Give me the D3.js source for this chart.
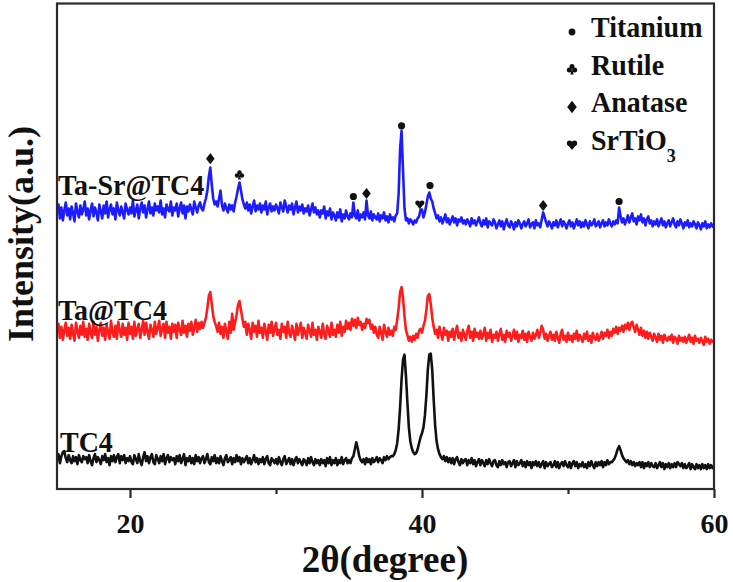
<!DOCTYPE html>
<html><head><meta charset="utf-8">
<script src="https://cdn.jsdelivr.net/npm/d3@7"></script>
<style>
html,body{margin:0;padding:0;background:#fff;}
svg{display:block;}
text{font-family:'Liberation Serif','Times New Roman',serif;font-weight:bold;fill:#111;}
</style>
</head><body>
<svg id="chart" width="733" height="582"></svg>
<script>
// 2θ sampling of the diffractograms
const thetaStart = 15, thetaStep = 0.1;

const seriesNames = ["TC4", "Ta@TC4", "Ta-Sr@TC4"];
const seriesColors = ["#111111", "#ff1c1c", "#1c1cff"];
const seriesOffsets = [0, 120, 240];

// intensities (a.u.), one value per 0.1° from 15° to 60°
const tc4 = [
28,33,24,31,35,36,29,25,32,27, 24,31,26,30,23,32,27,25,31,28, 30,24,32,26,22,29,33,25,30,27,
23,31,27,33,25,29,22,31,26,32, 25,30,33,24,31,27,32,24,29,26, 31,25,23,32,28,24,33,26,22,30,
35,26,31,24,30,33,25,23,32,28, 24,31,26,33,23,29,32,25,30,27, 29,23,31,26,32,24,28,33,22,29,
26,31,24,29,23,32,26,30,24,29, 31,24,28,33,25,23,30,26,32,24, 29,24,31,26,22,29,32,25,27,30,
23,29,25,32,26,30,23,29,25,28, 31,24,29,23,27,32,25,29,23,28, 25,30,23,28,31,24,22,29,27,24,
28,23,30,25,22,28,31,23,26,29, 23,28,22,27,30,24,28,25,22,28, 26,22,29,24,30,25,22,28,24,27,
22,28,24,27,21,29,24,30,22,27, 24,29,22,27,24,30,23,27,29,24, 27,24,29,31,38,45,39,31,27,25,
28,23,29,25,28,23,29,25,27,30, 25,29,27,24,30,27,31,28,30,31, 31,33,37,44,58,80,108,128,133,112,
85,60,46,39,35,33,34,38,44,50, 54,60,72,92,118,133,134,118,88,62, 46,38,33,30,28,31,26,30,25,29,
24,29,23,28,30,25,22,28,24,27, 28,22,27,24,29,23,27,21,25,28, 22,27,24,21,27,23,28,24,21,26,
27,22,20,26,22,27,23,25,20,25, 26,21,24,27,20,26,22,24,27,21, 25,20,26,22,25,19,25,22,26,21,
25,20,23,26,19,25,21,23,25,20, 22,26,20,25,19,23,25,21,26,22, 20,25,19,24,26,21,25,19,23,21,
25,20,23,19,25,21,26,22,19,25, 21,25,22,26,20,25,22,27,23,25, 25,27,29,33,38,41,37,32,29,27,
25,27,23,26,22,25,21,24,22,25, 20,25,19,24,21,25,20,24,21,20, 24,19,22,25,20,24,18,23,20,24,
19,23,20,24,20,25,23,21,24,19, 23,19,21,24,18,23,20,18,23,19, 22,18,23,19,22,18,23,19,22,19,
21];

const taTc4 = [
36,44,30,41,28,38,45,32,40,29, 43,34,27,45,37,30,42,33,46,31, 39,28,44,35,30,46,33,41,27,38,
45,32,40,28,43,36,29,47,35,31, 42,29,46,37,31,44,33,40,28,45, 34,41,29,46,32,39,44,30,38,47,
33,45,36,29,43,38,31,46,34,40, 47,32,39,44,30,46,35,41,29,44, 36,43,30,45,38,33,47,35,42,31,
44,37,46,33,40,48,36,45,39,46, 40,45,50,60,72,76,64,52,46,42, 36,45,34,41,30,44,37,29,46,35,
54,38,46,53,63,67,58,49,41,46, 33,44,38,29,45,36,42,31,47,35, 40,30,44,37,28,43,35,46,32,39,
45,33,38,29,44,36,41,30,46,35, 31,42,36,28,44,33,39,45,30,40, 35,29,43,37,31,45,33,38,28,41,
36,30,44,34,29,42,37,31,45,33, 38,31,43,35,46,32,41,36,47,39, 45,38,49,42,48,40,50,43,46,38,
44,40,49,45,48,39,43,35,41,33, 30,41,35,28,43,36,31,40,33,37, 32,41,38,48,60,76,81,70,52,38,
33,27,31,26,32,28,34,30,37,39, 35,42,47,58,72,74,64,50,41,34, 38,30,41,34,28,40,33,37,27,36,
31,39,28,36,42,30,35,27,38,33, 28,37,42,30,36,27,39,31,35,29, 37,29,34,40,27,35,30,38,26,33,
30,36,27,34,39,28,33,26,37,31, 35,27,32,38,29,36,26,33,30,37, 28,34,26,36,31,27,35,29,33,38,
30,35,42,38,29,34,27,32,36,28, 33,27,36,30,25,34,38,28,32,26, 35,28,32,26,34,29,37,27,33,30,
26,34,29,36,27,32,25,35,30,28, 34,27,31,36,29,35,32,38,30,36, 32,39,35,41,34,40,37,42,36,43,
39,45,38,44,46,41,36,43,38,33, 40,32,37,30,36,29,35,31,27,34, 30,26,34,28,32,25,33,29,27,31,
28,33,25,31,29,24,32,27,30,26, 31,25,29,33,26,30,24,32,27,29, 25,30,27,23,31,26,29,24,28,26,
26];

const taSrTc4 = [
36,44,30,41,28,38,46,33,40,29, 42,35,27,45,37,31,43,34,39,47, 33,40,29,38,45,32,41,36,28,44,
37,30,43,35,47,31,39,44,34,40, 29,46,38,33,42,36,30,45,39,34, 41,35,48,32,38,44,30,40,46,36,
43,31,39,47,35,41,33,45,38,42, 36,48,34,40,31,44,39,37,47,33, 41,38,45,32,40,46,35,43,30,42,
37,44,39,34,47,41,36,43,46,40, 38,45,50,58,72,81,64,50,44,47, 42,50,58,43,38,45,40,36,44,39,
43,37,46,52,60,66,58,49,44,40, 46,38,44,35,42,48,37,43,39,45, 36,43,39,47,34,41,45,37,42,38,
44,40,35,46,41,37,48,42,36,43, 39,45,34,41,47,36,42,38,44,35, 40,37,43,33,39,45,36,41,34,38,
31,38,35,42,30,37,33,40,29,36, 33,28,36,31,39,27,34,30,38,32, 29,35,31,46,33,30,38,28,34,31,
36,29,48,33,30,37,28,34,31,29, 35,27,33,30,36,28,32,26,34,29, 31,27,33,35,55,100,118,78,40,28,
30,25,29,27,24,28,26,30,32,39, 39,31,36,44,52,56,50,47,40,35, 30,33,27,31,25,29,34,26,30,24,
28,32,26,30,23,29,27,31,25,28, 24,29,26,22,30,25,28,23,27,31, 25,22,28,24,30,21,27,25,23,29,
26,20,24,28,22,27,19,25,29,23, 21,27,24,19,26,22,28,25,20,24, 27,22,25,29,21,24,26,20,28,23,
25,21,29,36,31,26,22,27,24,20, 26,23,28,21,25,29,22,27,24,20, 25,28,22,26,20,24,29,23,27,21,
26,22,28,24,20,27,23,25,29,22, 24,27,21,25,28,22,26,23,29,25, 22,27,24,28,25,41,32,26,30,24,
28,33,26,31,35,27,30,24,32,28, 34,26,30,23,29,32,25,28,22,27, 24,29,22,26,30,23,27,21,25,28,
22,26,30,24,21,27,23,29,25,20, 26,23,28,21,25,22,27,24,20,26, 23,19,25,22,27,20,24,21,25,22,
21];

const seriesValues = [tc4, taTc4, taSrTc4];

const xMajorTicks = [20, 40, 60];
const xMinorTicks = [30, 50];

// phase identification marks above the Ta-Sr@TC4 pattern
const phaseNames = ["Titanium", "Rutile", "Anatase", "SrTiO3"];
const markerPhase = ["Anatase", "Rutile", "Titanium", "Anatase", "Titanium", "SrTiO3", "Titanium", "Anatase", "Titanium"];
const markerTheta = [25.5, 27.5, 35.3, 36.2, 38.6, 39.85, 40.55, 48.3, 53.5];
const markerIntensity = [90, 74, 52, 55, 123, 44, 63, 43, 47];

// ---------- drawing ----------
const svg = d3.select("#chart");
const plot = {left: 57, right: 714, top: 3.5, bottom: 489};

const x = d3.scaleLinear().domain([15, 60]).range([plot.left, plot.right]);
const y = d3.scaleLinear().domain([-2, 486]).range([plot.bottom, plot.top]);

svg.append("defs").append("clipPath").attr("id", "clip")
  .append("rect").attr("x", plot.left).attr("y", plot.top)
  .attr("width", plot.right - plot.left).attr("height", plot.bottom - plot.top);

const line = d3.line().x(d => x(d[0])).y(d => y(d[1]));

const gLines = svg.append("g").attr("clip-path", "url(#clip)");
seriesValues.forEach((vals, si) => {
  const pts = vals.map((v, i) => [thetaStart + i * thetaStep, v + seriesOffsets[si]]);
  gLines.append("path").datum(pts)
    .attr("d", line)
    .attr("fill", "none")
    .attr("stroke", seriesColors[si])
    .attr("stroke-width", 2.6)
    .attr("stroke-linejoin", "round");
});

// frame
svg.append("rect").attr("x", plot.left).attr("y", plot.top)
  .attr("width", plot.right - plot.left).attr("height", plot.bottom - plot.top)
  .attr("fill", "none").attr("stroke", "#2a2a2a").attr("stroke-width", 2.2);

// x axis
const axMajor = svg.append("g").attr("transform", `translate(0,${plot.bottom})`)
  .call(d3.axisBottom(x).tickValues(xMajorTicks).tickSize(9).tickPadding(15).tickFormat(d3.format("d")));
const axMinor = svg.append("g").attr("transform", `translate(0,${plot.bottom})`)
  .call(d3.axisBottom(x).tickValues(xMinorTicks).tickSize(5).tickFormat(""));
[axMajor, axMinor].forEach(a => {
  a.select(".domain").remove();
  a.selectAll(".tick line").attr("stroke", "#2a2a2a").attr("stroke-width", 2.2);
});
axMajor.selectAll(".tick text")
  .style("font-family", "'Liberation Serif','Times New Roman',serif")
  .style("font-weight", "bold").style("font-size", "28px").attr("fill", "#111");

// helper: text slightly stretched vertically like the reference typesetting
function addText(parent, px, py, str, size, sy) {
  return parent.append("text")
    .attr("transform", `translate(${px},${py}) scale(1,${sy})`)
    .style("font-size", size + "px").text(str);
}

// axis titles
svg.append("text").attr("x", 385).attr("y", 572).attr("text-anchor", "middle")
  .style("font-size", "37px").text("2θ(degree)");
svg.append("text").attr("transform", "translate(33,234) rotate(-90)").attr("text-anchor", "middle")
  .style("font-size", "36px").text("Intensity(a.u.)");

// series labels
const labelPos = [[60, 452], [58, 320], [58, 195]];
seriesNames.forEach((n, i) => addText(svg, labelPos[i][0], labelPos[i][1], n, 28, 1.08));

// symbols
function drawSymbol(g, type, cx, cy, s) {
  const c = "#111";
  if (type === "Titanium") {
    g.append("circle").attr("cx", cx).attr("cy", cy).attr("r", s * 0.4).attr("fill", c);
  } else if (type === "Anatase") {
    g.append("path").attr("d",
      `M${cx},${cy - s * 0.62}L${cx + s * 0.48},${cy}L${cx},${cy + s * 0.62}L${cx - s * 0.48},${cy}Z`)
      .attr("fill", c);
  } else if (type === "Rutile") {
    const r = s * 0.25;
    [[0, -0.24], [-0.27, 0.1], [0.27, 0.1]].forEach(p =>
      g.append("circle").attr("cx", cx + p[0] * s).attr("cy", cy + p[1] * s).attr("r", r).attr("fill", c));
    g.append("path").attr("d",
      `M${cx},${cy - 0.05 * s}L${cx + 0.17 * s},${cy + 0.55 * s}L${cx - 0.17 * s},${cy + 0.55 * s}Z`).attr("fill", c);
  } else if (type === "SrTiO3") {
    const r = s * 0.27;
    [[-0.24, -0.18], [0.24, -0.18]].forEach(p =>
      g.append("circle").attr("cx", cx + p[0] * s).attr("cy", cy + p[1] * s).attr("r", r).attr("fill", c));
    g.append("path").attr("d",
      `M${cx - 0.5 * s},${cy - 0.1 * s}L${cx + 0.5 * s},${cy - 0.1 * s}L${cx},${cy + 0.5 * s}Z`).attr("fill", c);
  }
}

const gMarks = svg.append("g");
markerTheta.forEach((t, i) => {
  drawSymbol(gMarks, markerPhase[i], x(t), y(markerIntensity[i] + seriesOffsets[2]), 9);
});

// legend
const gLeg = svg.append("g");
const legSymY = [32, 69, 107, 145];
const legTextY = [37, 75, 112, 150];
phaseNames.forEach((p, i) => {
  drawSymbol(gLeg, p, 572, legSymY[i], p === "Titanium" ? 8.5 : 10);
  if (p === "SrTiO3") {
    const t = addText(gLeg, 591, legTextY[i], "", 28, 1.08);
    t.append("tspan").text("SrTiO");
    t.append("tspan").attr("dy", 11).style("font-size", "18px").text("3");
  } else {
    addText(gLeg, 591, legTextY[i], p, 28, 1.08);
  }
});
</script>
</body></html>
